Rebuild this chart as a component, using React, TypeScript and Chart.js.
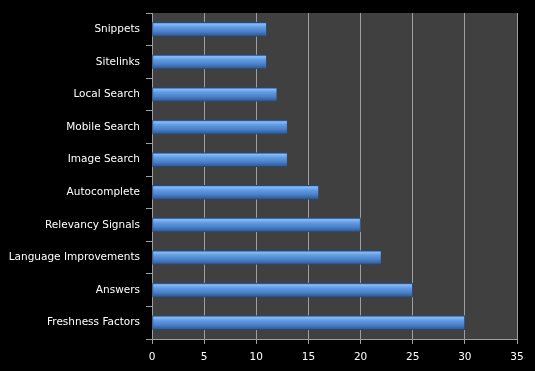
import React, { useEffect, useRef } from "react";
import { Chart, registerables } from "chart.js";

Chart.register(...registerables);

const categories = [
  "Snippets",
  "Sitelinks",
  "Local Search",
  "Mobile Search",
  "Image Search",
  "Autocomplete",
  "Relevancy Signals",
  "Language Improvements",
  "Answers",
  "Freshness Factors",
];
const values = [11, 11, 12, 13, 13, 16, 20, 22, 25, 30];
const xMin = 0;
const xMax = 35;
const xStep = 5;

const plotBg = {
  id: "plotBg",
  beforeDraw(chart: any) {
    const { ctx, chartArea } = chart;
    if (!chartArea) return;
    ctx.save();
    ctx.fillStyle = "#404040";
    ctx.fillRect(chartArea.left, chartArea.top, chartArea.right - chartArea.left, chartArea.bottom - chartArea.top);
    ctx.restore();
  },
};

export default function App() {
  const ref = useRef<HTMLCanvasElement>(null);
  useEffect(() => {
    document.body.style.margin = "0";
    const canvas = ref.current!;
    const half = 7;
    const chart = new Chart(canvas, {
      type: "bar",
      data: {
        labels: categories,
        datasets: [
          {
            data: values,
            barThickness: 14,
            borderWidth: 1,
            borderColor: "#26497d",
            borderSkipped: false,
            backgroundColor: (c: any) => {
              const ch = c.chart;
              const ys = ch.scales && ch.scales.y;
              if (!ys || c.dataIndex === undefined) return "#4f81bd";
              const cy = ys.getPixelForValue(c.dataIndex);
              if (!isFinite(cy)) return "#4f81bd";
              const g = ch.ctx.createLinearGradient(0, cy - half, 0, cy + half);
              g.addColorStop(0, "#3b67a8");
              g.addColorStop(0.12, "#8abaf4");
              g.addColorStop(0.35, "#5f9be2");
              g.addColorStop(0.65, "#4b82cb");
              g.addColorStop(1, "#2c5590");
              return g;
            },
          },
        ],
      },
      options: {
        indexAxis: "y",
        responsive: false,
        animation: false,
        devicePixelRatio: 1,
        layout: { padding: { top: 13, right: 18, left: 0, bottom: 0 } },
        plugins: { legend: { display: false }, tooltip: { enabled: false } },
        scales: {
          x: {
            min: xMin,
            max: xMax,
            ticks: {
              stepSize: xStep,
              color: "#ffffff",
              font: { family: "DejaVu Sans", size: 10.5 },
              padding: 7,
            },
            grid: {
              color: "#9e9e9e",
              lineWidth: 1,
              tickLength: 5,
              drawTicks: true,
            },
            border: { color: "#9e9e9e", width: 1 },
            afterFit: (s: any) => {
              s.height = 32;
            },
          },
          y: {
            ticks: {
              color: "#ffffff",
              font: { family: "DejaVu Sans", size: 10.5 },
              padding: 6,
            },
            grid: {
              drawOnChartArea: false,
              drawTicks: true,
              tickLength: 6,
              color: "#9e9e9e",
              offset: true,
            },
            border: { color: "#9e9e9e", width: 1 },
            afterFit: (s: any) => {
              s.width = 152;
            },
          },
        },
      },
      plugins: [plotBg],
    });
    return () => chart.destroy();
  }, []);
  return (
    <div style={{ position: "fixed", left: 0, top: 0, width: 535, height: 371, background: "#000" }}>
      <canvas ref={ref} width={535} height={371} style={{ display: "block" }} />
    </div>
  );
}
